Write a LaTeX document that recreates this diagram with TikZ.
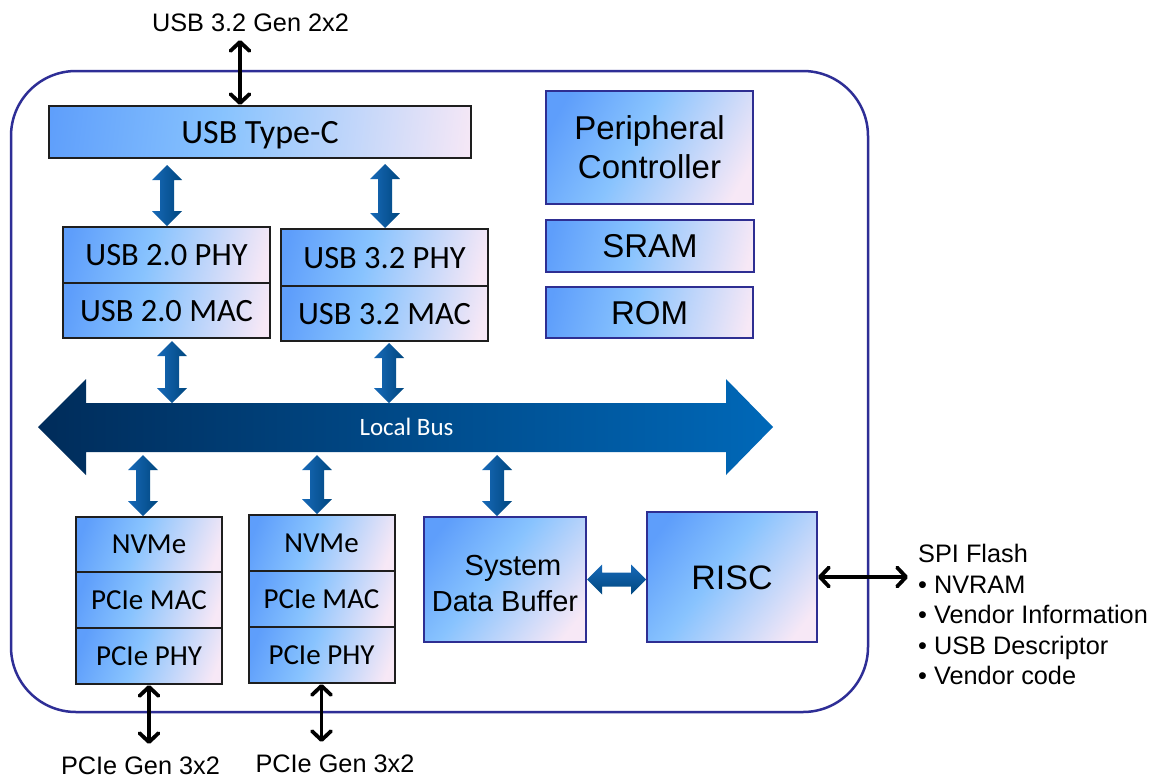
\documentclass[tikz,border=0pt]{standalone}
\usepackage{fontspec}
\setmainfont{Liberation Sans}
\newfontfamily\calfont{Carlito}
\usetikzlibrary{arrows.meta,calc}
\definecolor{cA}{HTML}{5E9EFB}
\definecolor{cB}{HTML}{88C3FE}
\definecolor{cC}{HTML}{F7E8F6}
\definecolor{boxblk}{HTML}{1E1E1E}
\definecolor{boxblu}{HTML}{2E2E92}
\definecolor{framecol}{HTML}{2E2E96}
\definecolor{fatL}{HTML}{1769B8}
\definecolor{fatR}{HTML}{00477F}
\definecolor{busL}{HTML}{002C5A}
\definecolor{busR}{HTML}{0068B8}
\pgfdeclarehorizontalshading{boxgrad}{100bp}{color(0bp)=(cA); color(22bp)=(cA); color(45bp)=(cB); color(78bp)=(cC); color(100bp)=(cC)}
\newcommand\fatv[2]{%
  \shade[left color=fatL, right color=fatR] let \p1=#1, \p2=#2 in
   (\x1,\y1) -- ({\x1+15pt},{\y1-15pt}) -- ({\x1+7pt},{\y1-15pt}) -- ({\x1+7pt},{\y2+15pt})
   -- ({\x1+15pt},{\y2+15pt}) -- (\x1,\y2) -- ({\x1-15pt},{\y2+15pt}) -- ({\x1-7pt},{\y2+15pt})
   -- ({\x1-7pt},{\y1-15pt}) -- ({\x1-15pt},{\y1-15pt}) -- cycle;}
\newcommand\fath[2]{%
  \shade[top color=fatL, bottom color=fatR] let \p1=#1, \p2=#2 in
   (\x1,\y1) -- ({\x1+15pt},{\y1+15pt}) -- ({\x1+15pt},{\y1+7pt}) -- ({\x2-15pt},{\y1+7pt})
   -- ({\x2-15pt},{\y1+15pt}) -- (\x2,\y1) -- ({\x2-15pt},{\y1-15pt}) -- ({\x2-15pt},{\y1-7pt})
   -- ({\x1+15pt},{\y1-7pt}) -- ({\x1+15pt},{\y1-15pt}) -- cycle;}
\tikzset{
  box/.style={shade, shading=boxgrad, line width=2pt, inner sep=0pt, align=center},
  kbox/.style={box, draw=boxblk},
  bbox/.style={box, draw=boxblu},
  usbrow/.style={kbox, minimum width=207, shading angle=-15, font=\calfont\fontsize{32.5}{36}\selectfont, text height=21pt, text depth=0pt},
  pcierow/.style={kbox, minimum width=146, minimum height=56, shading angle=-21, font=\calfont\fontsize{29}{33}\selectfont, text height=18.5pt, text depth=0pt},
  arialbox/.style={bbox, font=\fontsize{33}{39}\selectfont},
  lbl/.style={inner sep=0pt, font=\fontsize{25.3}{30}\selectfont, text height=18pt, text depth=0pt},
  blk/.style={line width=3.8pt, black, {Straight Barb[length=9pt,width=19pt,line cap=round,line join=round]}-{Straight Barb[length=9pt,width=19pt,line cap=round,line join=round]}},
  frame/.style={draw=framecol, line width=2.5pt, rounded corners=65pt}
}
\begin{document}
\begin{tikzpicture}[x=1pt,y=-1pt]
\useasboundingbox[fill=white] (0,0) rectangle (1162,779);
% outer frame
\draw[frame] (11,71) rectangle (868,712);

% USB Type-C
\node[kbox, minimum width=422, minimum height=52, shading angle=-7, font=\calfont\fontsize{34}{38}\selectfont, text height=22pt, text depth=0pt] (usbtc) at (260,132) {USB Type-C};
% USB 2.0 / 3.2 blocks
\node[usbrow, minimum height=56] (u20phy) at (166.5,255) {USB 2.0 PHY};
\node[usbrow, minimum height=55] (u20mac) at (166.5,310.5) {USB 2.0 MAC};
\node[usbrow, minimum height=57] (u32phy) at (384.5,257.5) {USB 3.2 PHY};
\node[usbrow, minimum height=55] (u32mac) at (384.5,313.5) {USB 3.2 MAC};
% right column
\node[arialbox, minimum width=207, minimum height=113, shading angle=-29] (perip) at (649.5,147.5) {Peripheral\\Controller};
\node[arialbox, minimum width=208, minimum height=52, shading angle=-14, text height=23.5pt, text depth=0pt] (sram) at (650,246) {SRAM};
\node[arialbox, minimum width=207, minimum height=51, shading angle=-14, text height=23.5pt, text depth=0pt] (rom) at (649.5,312.5) {ROM};
% PCIe stacks
\node[pcierow, minimum height=55] (nvme1) at (149,544.5) {NVMe};
\node[pcierow] (mac1) at (149,600) {PCIe MAC};
\node[pcierow] (phy1) at (149,656) {PCIe PHY};
\node[pcierow] (nvme2) at (321.5,543) {NVMe};
\node[pcierow] (mac2) at (321.5,599) {PCIe MAC};
\node[pcierow] (phy2) at (321.5,655) {PCIe PHY};
% SDB and RISC
\node[bbox, minimum width=162, minimum height=125, shading angle=-38] (sdb) at (505,579.5) {};
\node[inner sep=0pt, align=center, font=\fontsize{29}{36}\selectfont] (sdbtext) at (505,583.5) {\hspace*{16pt}System\\Data Buffer};
\node[bbox, minimum width=170, minimum height=130, shading angle=-37, font=\fontsize{34}{38}\selectfont, text height=24pt, text depth=0pt] (risc) at (732,577) {RISC};

% Local bus
\shade[left color=busL, right color=busR] (38,427) -- (86,379) -- (86,403) -- (726,403) -- (726,379) -- (773,427) -- (726,475) -- (726,452) -- (86,452) -- (86,475) -- cycle;
\node[inner sep=0pt, text=white, font=\calfont\fontsize{25}{30}\selectfont, text height=16pt, text depth=0pt] (bus) at (406.5,427) {Local Bus};
\coordinate (bustop) at (406,403);
\coordinate (busbot) at (406,452);

% fat arrows
\coordinate (a1) at (167,165);
\coordinate (a2) at (385,164);
\coordinate (a3) at (172,341);
\coordinate (a4) at (389,343);
\coordinate (a5) at (143,455);
\coordinate (a6) at (317,455);
\coordinate (a7) at (497,455);
\fatv{(a1)}{(a1 |- u20phy.north)}
\fatv{(a2)}{(a2 |- u32phy.north)}
\fatv{(a3)}{(a3 |- bustop)}
\fatv{(a4)}{(a4 |- bustop)}
\fatv{(a5)}{(a5 |- nvme1.north)}
\fatv{(a6)}{(a6 |- nvme2.north)}
\fatv{(a7)}{(a7 |- sdb.north)}
\fath{(sdb.east)}{(sdb.east -| risc.west)}

% external labels and black arrows
\node[lbl] (usbext) at (250.5,22) {USB 3.2 Gen 2x2};
\coordinate (usbtop) at (240,40);
\draw[blk] (usbtop) -- (usbtop |- usbtc.north);

\node[lbl] (pg1) at (140.5,765) {PCIe Gen 3x2};
\node[lbl] (pg2) at (335,763) {PCIe Gen 3x2};
\coordinate (pe1) at (150,744);
\coordinate (pe2) at (321.5,742);
\draw[blk] (phy1.south) -- (phy1.south |- pe1);
\draw[blk] (phy2.south) -- (phy2.south |- pe2);

\coordinate (spiend) at (908,577);
\draw[blk] (risc.east) -- (risc.east -| spiend);
\node[anchor=north west, inner sep=0pt, align=left, font=\fontsize{25.3}{30.5}\selectfont] (spi) at (918,544)
  {SPI Flash\\• NVRAM\\• Vendor Information\\• USB Descriptor\\• Vendor code};
\end{tikzpicture}
\end{document}
